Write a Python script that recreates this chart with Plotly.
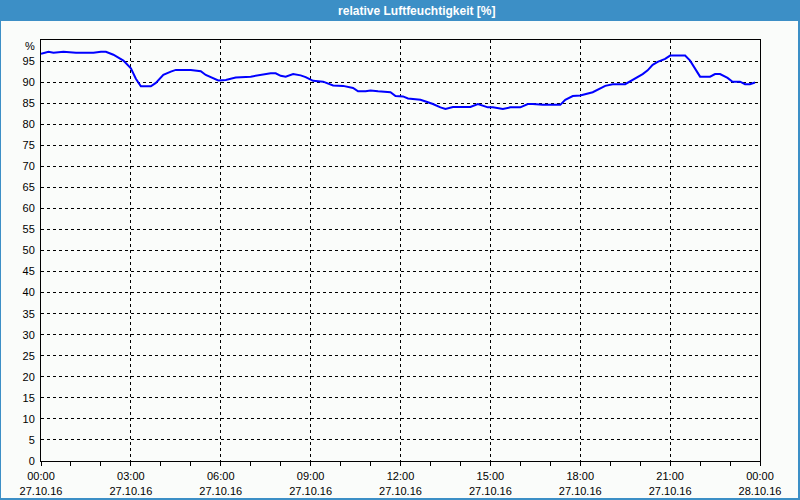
import plotly.graph_objects as go

day = "2016-10-27"
times = [
    "00:00", "00:15", "00:25", "00:45", "01:10", "01:45", "02:00", "02:10",
    "02:25", "02:45", "03:00", "03:10", "03:20", "03:40", "03:50", "04:05",
    "04:20", "04:30", "05:00", "05:20", "05:30", "05:45", "05:55", "06:10",
    "06:30", "07:00", "07:20", "07:40", "07:50", "08:00", "08:10", "08:25",
    "08:40", "08:50", "09:05", "09:25", "09:45", "10:05", "10:25", "10:35",
    "10:50", "11:00", "11:15", "11:40", "11:50", "12:05", "12:15", "12:40",
    "12:55", "13:05", "13:20", "13:30", "13:45", "14:20", "14:35", "14:55",
    "15:05", "15:25", "15:40", "16:00", "16:15", "16:25", "16:45", "17:20",
    "17:30", "17:45", "18:00", "18:15", "18:25", "18:50", "19:05", "19:30",
    "19:45", "20:05", "20:15", "20:25", "20:35", "20:50", "21:00", "21:30",
    "21:40", "21:50", "22:00", "22:20", "22:30", "22:40", "22:55", "23:05",
    "23:20", "23:30", "23:40", "23:50",
]
humidity = [
    96.7, 97.2, 97.0, 97.2, 97.0, 97.0, 97.2, 97.2,
    96.5, 95.1, 93.3, 90.8, 89.0, 89.0, 89.8, 91.7,
    92.5, 92.9, 92.9, 92.6, 91.7, 91.0, 90.4, 90.5,
    91.1, 91.3, 91.7, 92.1, 92.1, 91.5, 91.3, 91.9,
    91.6, 91.2, 90.3, 90.1, 89.2, 89.1, 88.6, 87.8,
    87.8, 88.0, 87.8, 87.6, 86.7, 86.6, 86.1, 85.8,
    85.2, 84.8, 84.0, 83.6, 84.1, 84.1, 84.8, 84.0,
    84.0, 83.6, 84.0, 84.0, 84.8, 84.8, 84.6, 84.6,
    85.8, 86.7, 86.8, 87.2, 87.6, 89.1, 89.5, 89.5,
    90.5, 91.9, 92.8, 94.1, 94.8, 95.5, 96.3, 96.3,
    95.1, 93.3, 91.3, 91.3, 91.9, 91.9, 91.0, 90.1,
    90.1, 89.5, 89.5, 89.9,
]

y_ticks = list(range(0, 101, 5))
y_labels = [str(v) for v in y_ticks[:-1]] + [""]
y_unit = "%"

x_start = "2016-10-27 00:00"
x_end = "2016-10-28 00:00"

frame_blue = "#3c8fc6"
bg = "#fafcfa"
font = "Liberation Sans"

# Plotbereich in Pixeln: 41..760 x 40..461
plot_w, plot_h = 719, 421

fig = go.Figure(go.Scatter(
    x=[f"{day} {t}" for t in times],
    y=humidity,
    mode="lines",
    line=dict(color="#0000ff", width=2),
    hoverinfo="x+y",
))

fig.update_layout(
    width=800, height=500,
    margin=dict(l=41, r=40, t=40, b=39),
    paper_bgcolor=frame_blue,
    plot_bgcolor=bg,
    showlegend=False,
    font=dict(family=font, size=11, color="black"),
    title=dict(
        text="<b>relative Luftfeuchtigkeit [%]</b>",
        x=0.521, xanchor="center", xref="container",
        y=0.979, yanchor="middle", yref="container",
        font=dict(family=font, size=12, color="white"),
    ),
    # weisser Innenbereich unter der Titelleiste
    shapes=[dict(
        type="rect", layer="below",
        xref="paper", yref="paper",
        x0=-40 / plot_w, x1=757 / plot_w,
        y0=-37 / plot_h, y1=440 / plot_h,
        fillcolor=bg, line=dict(width=0),
    )],
    # Einheit oben an der y-Achse
    annotations=[dict(
        text=y_unit, xref="paper", yref="y",
        x=0, y=y_ticks[-1], xanchor="right", yanchor="middle",
        xshift=-4, yshift=-6, showarrow=False,
        font=dict(family=font, size=11, color="black"),
    )],
)

fig.update_xaxes(
    type="date",
    range=[x_start, x_end],
    automargin=False,
    tickmode="linear", tick0=x_start, dtick=3 * 3600000,
    tickformat="%H:%M<br>%d.%m.%y",
    ticks="outside", ticklen=4, tickcolor="black",
    ticklabelstandoff=1,
    minor=dict(dtick=3600000, tick0=x_start, ticks="outside", ticklen=4,
               tickcolor="black", showgrid=False),
    showgrid=True, gridcolor="black", gridwidth=1, griddash="3px,3px",
    showline=True, linecolor="black", linewidth=1, mirror=True,
    zeroline=False,
    tickfont=dict(family=font, size=11, color="black"),
)

fig.update_yaxes(
    range=[0, 100],
    automargin=False,
    tickmode="array", tickvals=y_ticks, ticktext=y_labels,
    ticks="", ticklabelstandoff=3,
    showgrid=True, gridcolor="black", gridwidth=1, griddash="3px,3px",
    showline=True, linecolor="black", linewidth=1, mirror=True,
    zeroline=False,
    tickfont=dict(family=font, size=11, color="black"),
)

# Browser-Standardrand entfernen, damit die Grafik bei 0,0 beginnt
fig.write_html("out.html",
               config={"displayModeBar": False},
               post_script="document.body.style.margin='0';"
                           "document.body.style.overflow='hidden';")
